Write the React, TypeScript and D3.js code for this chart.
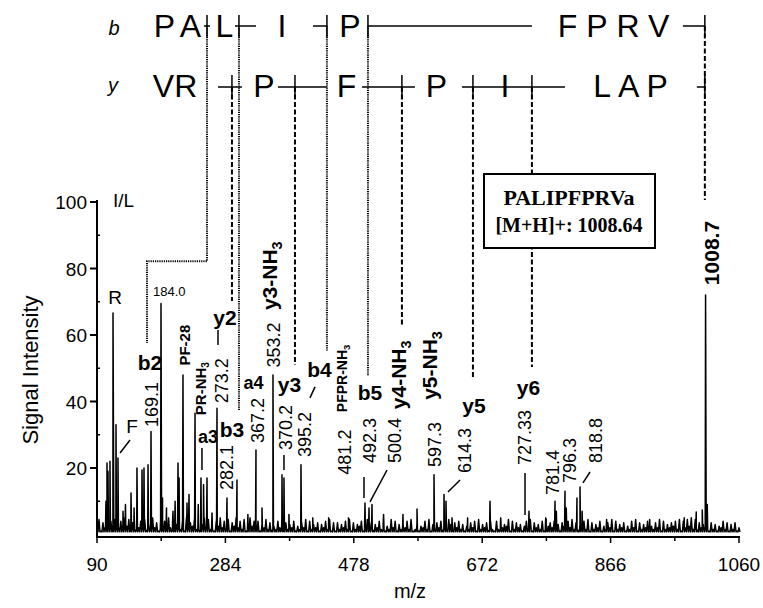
import React from 'react';
import * as d3 from 'd3';

// ---- data ----
// peak positions (m/z) and heights (signal intensity, %)
const peakMz = [
  103.5, 105.1, 106.6, 109.6, 114.2, 118.7, 121.7, 129.3, 133, 141.4, 146, 150.4, 158, 161, 167.1, 171.6,
  186.7, 189, 195, 204.8, 208, 212.4, 214, 219.9, 226, 229, 238.1, 243, 247.1, 251, 256.2, 263.8, 271.3,
  286.4, 301.5, 318, 330.2, 339.3, 355.9, 369.5, 372.5, 380, 398.2, 416, 440, 470, 494.9, 501,
  505.5, 523, 552.3, 573.5, 599.2, 614.3, 617.3, 626.4, 650, 683.8, 700, 742.7, 768, 782, 784,
  797.1, 799, 815.2, 819.8, 823, 860, 925, 977.3, 995.4, 1004.5, 1009.5, 1012,
];
const peakInt = [
  10, 21.5, 19, 22, 66.6, 33, 23, 7, 9, 12.5, 8, 20, 19.4, 20, 21, 31,
  69.5, 11, 8, 7, 10, 21.5, 17, 48, 9.5, 12, 36.5, 9, 17, 15, 17, 6.5, 38,
  11, 16.4, 6, 25.4, 8, 48, 18, 17, 6, 21, 5, 5, 5, 9.5, 8,
  9, 6, 6, 7.7, 18, 12, 10, 5, 5, 10, 5, 7, 5, 10, 7,
  13, 8, 11, 14.3, 7, 4.5, 4.5, 5, 6.8, 7.4, 72, 9,
];
// baseline noise, one digit per sample across 90-1060 (0 = low, 9 = high)
const noiseDigits = [
  '4816392718537294816293748152936184729361',
  '5827193648271593826174937281649372815947',
  '2715382614273816253714263817253615372816',
  '1625372816254713826153726142837152637281',
  '2614372815263714285163725142637182536172',
  '1726354817263514728163527184637251642738',
  '2615372816253714263817253614273816253714',
  '26381725364728173849281635271625143726152613',
].join('');
const noiseFloor = 0.8;

const xTicks = [90, 284, 478, 672, 866, 1060];
const xMinorTicks = [187, 381, 575, 769, 963];
const yTicks = [20, 40, 60, 80, 100];
const yMinorTicks = [10, 30, 50, 70, 90];

// horizontal annotations: text, m/z, intensity of baseline, kind
const flatLabels: [string, number, number, string][] = [
  ['I/L', 114.2, 98.5, 'aaStart'],
  ['R', 117.2, 69.3, 'aa'],
  ['F', 142.9, 30.5, 'aa'],
  ['184.0', 174.6, 71.7, 'small'],
  ['b2', 170.1, 49.5, 'ion'],
  ['y2', 283.4, 63.0, 'ion'],
  ['a3', 257.7, 27.5, 'ionSmall'],
  ['b3', 294.0, 29.3, 'ion'],
  ['a4', 326.5, 43.8, 'ionSmall'],
  ['y3', 380.9, 42.9, 'ion'],
  ['b4', 426.2, 47.4, 'ion'],
  ['b5', 502.5, 40.5, 'ion'],
  ['y5', 659.6, 36.5, 'ion'],
  ['y6', 742.0, 42.0, 'ion'],
];
// vertical annotations: text, m/z of baseline, intensity at start, kind
const upLabels: [string, number, number, string][] = [
  ['169.1', 182.2, 32.3, 'num'],
  ['273.2', 287.9, 39.5, 'num'],
  ['282.1', 295.5, 13.4, 'num'],
  ['353.2', 366.5, 50.2, 'num'],
  ['367.2', 342.3, 27.5, 'num'],
  ['370.2', 384.6, 25.4, 'num'],
  ['395.2', 413.3, 23.3, 'num'],
  ['481.2', 473.8, 18.0, 'num'],
  ['492.3', 511.5, 21.5, 'num'],
  ['500.4', 549.3, 21.5, 'num'],
  ['597.3', 609.8, 20.3, 'num'],
  ['614.3', 655.1, 18.5, 'num'],
  ['727.33', 745.7, 20.9, 'num'],
  ['781.4', 788.0, 11.9, 'num'],
  ['796.3', 813.7, 15.5, 'num'],
  ['818.8', 853.0, 21.5, 'num'],
  ['y3-NH3', 362.0, 67.5, 'rotIon'],
  ['y4-NH3', 556.9, 37.7, 'rotIon'],
  ['y5-NH3', 603.7, 40.5, 'rotIon'],
  ['1008.7', 1029.2, 75.0, 'rotIon'],
  ['PF-28', 230.5, 50.8, 'frag'],
  ['PR-NH3', 254.7, 35.9, 'frag'],
  ['PFPR-NH3', 467.7, 36.8, 'fragSmall'],
];
// leader lines: m/z1, int1, m/z2, int2
const leaders = [
  [139.9, 28.4, 124.8, 24.5],
  [272.8, 61.5, 272.8, 57.0],
  [248.6, 26.0, 248.6, 19.4],
  [372.5, 23.9, 372.5, 19.4],
  [419.4, 44.4, 411.8, 41.1],
  [493.4, 17.3, 493.4, 11.0],
  [528.2, 19.4, 502.5, 9.8],
  [638.5, 16.4, 620.3, 12.8],
  [736.7, 18.5, 736.7, 5.9],
  [834.9, 18.8, 824.3, 15.5],
];

// sequence ladder
const seqB: [string, number][] = [['PA', 211.6], ['L', 282.6], ['I', 369.5], ['P', 472.3], ['FPRV', 870.4]];
const seqY: [string, number][] = [['VR', 207.9], ['P', 342.3], ['F', 467.0], ['P', 602.9], ['I', 706.5], ['LAP', 896.1]];
const cutsB = [256.2, 304.5, 437.4, 499.4, 1008.4];
const cutsY = [293.9, 389.1, 550.7, 658, 747.1, 1008.4];
const segsB = [[251.6, 260.7], [298.5, 330.2], [416.3, 437.4], [499.4, 747.1], [975.2, 1008.4]];
const segsY = [[272.8, 309], [363.4, 437.4], [490.3, 570.4], [641.4, 797], [996.3, 1008.4]];
// b-ion (dotted) and y-ion (dashed) drop lines: m/z, intensity where they stop
const bDrops = [[304.5, 37.4], [437.4, 55.2], [499.4, 47.7]];
const b2Path = [[256.2, 82.2], [165.5, 82.2], [165.5, 57.6]];
const yDrops = [[293.9, 70.2], [389.1, 51.0], [550.7, 62.4], [658, 47.1], [747.1, 50.4]];
const parentDrop = [1008.4, 100.6];

const SANS = "Arial, 'Liberation Sans', sans-serif";
const SERIF = "'Times New Roman', 'Liberation Serif', serif";
const styles: Record<string, { size: number; bold?: boolean; anchor?: string }> = {
  aa: { size: 19 },
  aaStart: { size: 19, anchor: 'start' },
  small: { size: 13, anchor: 'start' },
  ion: { size: 21, bold: true },
  ionSmall: { size: 18, bold: true },
  num: { size: 18 },
  rotIon: { size: 21, bold: true },
  frag: { size: 15, bold: true },
  fragSmall: { size: 14, bold: true },
};
const letterGap: Record<string, number> = { PA: 7, FPRV: 9, LAP: 7 };

const withSub = (t: string, fs: number) => {
  const m = t.match(/^(.*NH)3$/);
  if (!m) return t;
  return (
    <>
      {m[1]}
      <tspan fontSize={fs * 0.68} dy={fs * 0.22}>3</tspan>
    </>
  );
};

export default function App() {
  const x = d3.scaleLinear().domain([90, 1060]).range([97, 739]);
  const y = d3.scaleLinear().domain([0, 100]).range([534.5, 202]);
  const axisY = 537;
  const rowB = 26;
  const rowY = 87;

  // build the profile: noise samples (each dropping back to the floor) plus a narrow spike per peak
  const step = 970 / (noiseDigits.length - 1);
  const pts: [number, number][] = [];
  noiseDigits.split('').forEach((d, i) => {
    const m = 90 + i * step;
    pts.push([m, 0.5 + +d * 0.5], [m + step / 2, noiseFloor]);
  });
  peakMz.forEach((m, i) => {
    const hw = peakInt[i] > 50 ? 1.2 : 0.7;
    pts.push([m - hw, 1.5], [m, peakInt[i]], [m + hw, 1.5]);
  });
  pts.sort((a, b) => a[0] - b[0]);
  const line = d3.line<[number, number]>().x(d => x(d[0])).y(d => y(d[1]));

  return (
    <svg width={763} height={608} style={{ position: 'absolute', left: 0, top: 0, background: '#fff' }} fontFamily={SANS}>
      {/* spectrum */}
      <path d={line(pts) || ''} fill="none" stroke="#000" strokeWidth={1.5} strokeLinejoin="round" />

      {/* axes */}
      <line x1={97} x2={740} y1={axisY} y2={axisY} stroke="#000" strokeWidth={2} />
      <line x1={97} x2={97} y1={axisY + 1} y2={y(100.6)} stroke="#000" strokeWidth={2} />
      {xTicks.map(t => (
        <g key={'xt' + t}>
          <line x1={x(t)} x2={x(t)} y1={axisY} y2={axisY + 6} stroke="#000" strokeWidth={1.5} />
          <text x={x(t)} y={571} fontSize={19} textAnchor="middle">{t}</text>
        </g>
      ))}
      {xMinorTicks.map(t => (
        <line key={'xm' + t} x1={x(t)} x2={x(t)} y1={axisY} y2={axisY + 4} stroke="#000" strokeWidth={1.5} />
      ))}
      {yTicks.map(t => (
        <g key={'yt' + t}>
          <line x1={90} x2={97} y1={y(t)} y2={y(t)} stroke="#000" strokeWidth={2} />
          <text x={87} y={y(t) + 7} fontSize={19} textAnchor="end">{t}</text>
        </g>
      ))}
      {yMinorTicks.map(t => (
        <line key={'ym' + t} x1={97} x2={100} y1={y(t)} y2={y(t)} stroke="#000" strokeWidth={1.5} />
      ))}
      <text x={410} y={598} fontSize={20} textAnchor="middle">m/z</text>
      <text transform="translate(38,370) rotate(-90)" fontSize={22} textAnchor="middle">Signal Intensity</text>

      {/* peak annotations */}
      {leaders.map((l, i) => (
        <line key={'ld' + i} x1={x(l[0])} y1={y(l[1])} x2={x(l[2])} y2={y(l[3])} stroke="#000" strokeWidth={1.5} />
      ))}
      {flatLabels.map(([t, m, v, k], i) => {
        const s = styles[k];
        return (
          <text key={'fl' + i} x={x(m)} y={y(v)} fontSize={s.size} fontWeight={s.bold ? 'bold' : 'normal'}
            textAnchor={s.anchor || 'middle'}>{t}</text>
        );
      })}
      {upLabels.map(([t, m, v, k], i) => {
        const s = styles[k];
        return (
          <text key={'ul' + i} transform={`translate(${x(m)},${y(v)}) rotate(-90)`} fontSize={s.size}
            fontWeight={s.bold ? 'bold' : 'normal'}>{withSub(t, s.size)}</text>
        );
      })}

      {/* sequence ladder */}
      <text x={114} y={35} fontSize={20} fontStyle="italic" textAnchor="middle">b</text>
      <text x={113} y={92} fontSize={20} fontStyle="italic" textAnchor="middle">y</text>
      {seqB.map(([t, m], i) => (
        <text key={'sb' + i} x={x(m) + (letterGap[t] || 0) / 2} y={rowB + 11} fontSize={32} textAnchor="middle"
          letterSpacing={letterGap[t] || 0}>{t}</text>
      ))}
      {seqY.map(([t, m], i) => (
        <text key={'sy' + i} x={x(m) + (letterGap[t] || 0) / 2} y={rowY + 10} fontSize={32} textAnchor="middle"
          letterSpacing={letterGap[t] || 0}>{t}</text>
      ))}
      {segsB.map((s, i) => (
        <line key={'gb' + i} x1={x(s[0])} x2={x(s[1])} y1={rowB} y2={rowB} stroke="#000" strokeWidth={1.5} />
      ))}
      {segsY.map((s, i) => (
        <line key={'gy' + i} x1={x(s[0])} x2={x(s[1])} y1={rowY} y2={rowY} stroke="#000" strokeWidth={1.5} />
      ))}
      {cutsB.map((m, i) => (
        <line key={'cb' + i} x1={x(m)} x2={x(m)} y1={rowB - 11} y2={rowB + 11} stroke="#000" strokeWidth={1.5} />
      ))}
      {cutsY.map((m, i) => (
        <line key={'cy' + i} x1={x(m)} x2={x(m)} y1={rowY - 12} y2={rowY + 12} stroke="#000" strokeWidth={1.5} />
      ))}
      {bDrops.map(([m, v], i) => (
        <line key={'bd' + i} x1={x(m)} x2={x(m)} y1={rowB} y2={y(v)} stroke="#000" strokeWidth={2}
          strokeDasharray="1.2 1" />
      ))}
      <path d={`M${x(b2Path[0][0])},${rowB}` + b2Path.map(p => `L${x(p[0])},${y(p[1])}`).join('')}
        fill="none" stroke="#000" strokeWidth={2} strokeDasharray="1.2 1" />
      {yDrops.map(([m, v], i) => (
        <line key={'yd' + i} x1={x(m)} x2={x(m)} y1={rowY} y2={y(v)} stroke="#000" strokeWidth={2}
          strokeDasharray="5 2.5" />
      ))}
      <line x1={x(parentDrop[0])} x2={x(parentDrop[0])} y1={rowB} y2={y(parentDrop[1])} stroke="#000"
        strokeWidth={2} strokeDasharray="5 2.5" />

      {/* precursor box */}
      <rect x={484} y={174} width={171} height={74} fill="#fff" stroke="#000" strokeWidth={2} />
      <text x={569} y={205} fontFamily={SERIF} fontWeight="bold" fontSize={22} textAnchor="middle">PALIPFPRVa</text>
      <text x={569} y={232} fontFamily={SERIF} fontWeight="bold" fontSize={20} textAnchor="middle">[M+H]+: 1008.64</text>
    </svg>
  );
}
